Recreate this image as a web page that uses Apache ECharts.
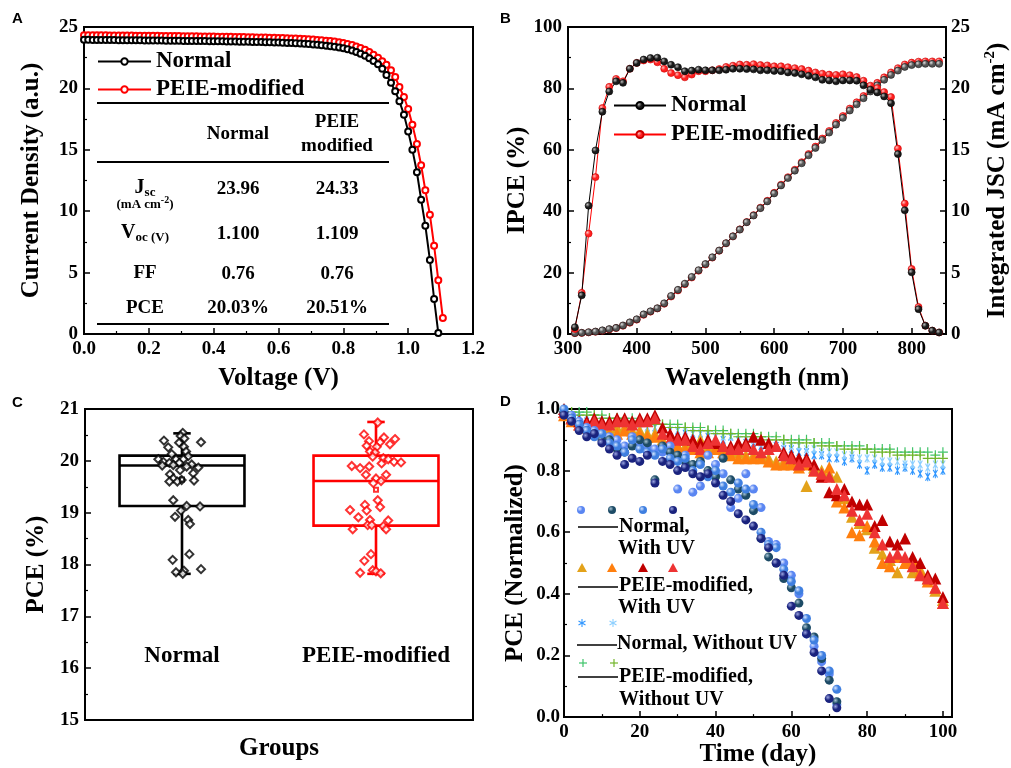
<!DOCTYPE html>
<html><head><meta charset="utf-8">
<script src="https://cdn.jsdelivr.net/npm/echarts@6.0.0/dist/echarts.min.js"></script>
<style>html,body{margin:0;padding:0;background:#fff}#c{width:1011px;height:768px}</style>
</head><body><div id="c"></div>
<script>
// ---------- Panel A: J-V ----------
const voltage = [0,0.013,0.027,0.040,0.053,0.067,0.080,0.093,0.107,0.120,0.133,0.147,0.160,0.173,0.187,0.200,0.213,0.227,0.240,0.253,0.267,0.280,0.293,0.307,0.320,0.333,0.347,0.360,0.373,0.387,0.400,0.413,0.427,0.440,0.453,0.467,0.480,0.493,0.507,0.520,0.533,0.547,0.560,0.573,0.587,0.600,0.613,0.627,0.640,0.653,0.667,0.680,0.693,0.707,0.720,0.733,0.747,0.760,0.773,0.787,0.800,0.813,0.827,0.840,0.853,0.867,0.880,0.893,0.907,0.920,0.933,0.947,0.960,0.973,0.987,1.000,1.013,1.027,1.040,1.053,1.067,1.080,1.093,1.107];
const jNormal = [23.96,23.96,23.95,23.95,23.95,23.94,23.94,23.94,23.93,23.93,23.93,23.92,23.92,23.92,23.91,23.91,23.90,23.90,23.90,23.89,23.89,23.88,23.88,23.87,23.87,23.86,23.86,23.85,23.85,23.84,23.84,23.83,23.83,23.82,23.82,23.81,23.80,23.80,23.79,23.78,23.77,23.77,23.76,23.75,23.74,23.73,23.72,23.70,23.69,23.67,23.65,23.63,23.61,23.58,23.55,23.52,23.48,23.44,23.39,23.33,23.26,23.18,23.08,22.96,22.82,22.66,22.46,22.23,21.96,21.60,21.10,20.45,19.76,18.95,17.86,16.50,15.01,13.17,10.94,8.82,6.03,2.85,0.08];
const jPEIE = [24.33,24.33,24.33,24.32,24.32,24.32,24.31,24.31,24.31,24.30,24.30,24.30,24.29,24.29,24.29,24.28,24.28,24.28,24.27,24.27,24.26,24.26,24.26,24.25,24.25,24.24,24.24,24.23,24.23,24.22,24.22,24.21,24.21,24.20,24.20,24.19,24.18,24.18,24.17,24.16,24.15,24.15,24.14,24.13,24.12,24.11,24.10,24.09,24.07,24.06,24.04,24.02,24.00,23.98,23.95,23.92,23.89,23.85,23.81,23.76,23.70,23.62,23.53,23.42,23.29,23.14,22.96,22.75,22.50,22.22,21.93,21.47,20.93,20.11,19.30,18.32,17.05,15.47,13.74,11.70,9.72,7.19,4.37,1.30];
const tableRows = ['Jsc','Voc','FF','PCE'];
const tableNormal = ['23.96','1.100','0.76','20.03%'];
const tablePEIE = ['24.33','1.109','0.76','20.51%'];

// ---------- Panel B: IPCE ----------
const wavelength = [310,320,330,340,350,360,370,380,390,400,410,420,430,440,450,460,470,480,490,500,510,520,530,540,550,560,570,580,590,600,610,620,630,640,650,660,670,680,690,700,710,720,730,740,750,760,770,780,790,800,810,820,830,840];
const ipceNormal = [2.2,12.6,41.8,59.8,72.4,79.0,82.3,81.8,86.4,88.3,89.4,89.9,90.0,88.8,87.7,86.9,85.6,85.8,86.1,85.9,85.9,85.9,86.1,86.4,86.4,86.3,86.2,85.9,85.9,85.7,85.6,85.2,85.0,84.6,84.1,83.6,82.8,82.6,82.3,82.6,82.6,82.5,81.0,79.6,78.7,77.4,75.2,58.6,40.3,20.1,8.1,2.7,1.1,0.5];
const ipcePEIE = [1.6,13.4,32.7,51.1,73.6,80.5,83.1,82.3,86.4,88.3,89.1,89.4,88.5,86.4,85.0,84.3,83.6,84.5,85.6,85.6,85.9,86.3,87.0,87.4,87.8,87.7,87.9,87.6,87.5,87.2,87.2,86.9,86.6,86.3,85.8,85.2,84.8,84.5,84.4,84.6,84.3,83.7,82.5,80.9,80.1,78.8,77.2,60.4,42.5,21.2,8.8,2.7,1.1,0.5];
const jscNormal = [0.08,0.1,0.15,0.2,0.3,0.4,0.5,0.7,0.95,1.2,1.6,1.85,2.1,2.5,3.1,3.6,4.1,4.65,5.2,5.7,6.25,6.8,7.4,7.95,8.5,9.1,9.65,10.25,10.8,11.45,12.1,12.7,13.3,13.9,14.55,15.15,15.8,16.4,17.05,17.6,18.2,18.7,19.2,19.75,20.25,20.7,21.1,21.45,21.75,21.9,21.97,22.0,22.0,22.0];
const jscPEIE = [0.07,0.09,0.13,0.18,0.27,0.37,0.48,0.67,0.92,1.17,1.56,1.82,2.08,2.46,3.05,3.55,4.05,4.6,5.15,5.66,6.22,6.78,7.38,7.95,8.52,9.12,9.68,10.29,10.85,11.5,12.16,12.77,13.38,13.99,14.65,15.26,15.92,16.53,17.19,17.75,18.36,18.87,19.38,19.94,20.45,20.9,21.3,21.65,21.95,22.1,22.18,22.2,22.2,22.2];

// ---------- Panel C: PCE distribution ----------
const groups = ['Normal','PEIE-modified'];
const boxMin = [17.82,17.82];
const boxQ1 = [19.13,18.75];
const boxMedian = [19.91,19.61];
const boxQ3 = [20.10,20.10];
const boxMax = [20.53,20.75];
const boxMean = [19.64,19.44];
const normalJitter = [0.004,-0.007,0.012,-0.093,0.098,-0.015,-0.071,0.010,0.021,-0.053,0.032,-0.122,-0.031,0.007,-0.096,-0.065,-0.014,0.050,-0.102,-0.045,0.024,0.084,-0.010,0.058,-0.062,-0.045,-0.002,0.062,-0.065,-0.024,-0.045,0.024,0.093,-0.005,-0.036,0.032,0.041,0.038,-0.048,0.010,0.098,-0.031,0.004];
const normalPCE = [20.54,20.48,20.43,20.39,20.36,20.35,20.26,20.27,20.18,20.13,20.09,20.03,20.03,20.03,19.98,19.96,19.96,19.93,19.91,19.92,19.89,19.87,19.82,19.76,19.74,19.66,19.63,19.62,19.60,19.60,19.24,19.13,19.12,19.04,18.92,18.86,18.78,18.20,18.09,17.88,17.91,17.85,17.82];
const peieJitter = [0.009,-0.062,0.041,0.098,-0.036,0.021,0.072,-0.048,0.004,-0.031,-0.005,0.038,0.063,0.093,0.129,-0.017,0.029,-0.125,-0.082,-0.035,-0.052,0.052,0.000,0.026,-0.014,0.009,0.021,-0.134,-0.057,-0.048,-0.091,-0.031,0.063,-0.043,0.038,-0.022,-0.120,0.052,-0.026,-0.060,-0.082,-0.017,0.000,0.024];
const peiePCE = [20.74,20.51,20.45,20.42,20.38,20.36,20.32,20.29,20.27,20.18,20.16,20.05,20.03,19.98,19.97,20.08,19.95,19.90,19.86,19.89,19.73,19.73,19.66,19.61,19.57,19.24,19.11,19.05,19.15,19.04,18.91,18.86,18.85,18.76,18.74,18.76,18.68,18.68,18.20,18.07,17.84,17.89,17.87,17.83];

// ---------- Panel D: stability ----------
const days = [0,2,4,6,8,10,12,14,16,18,20,22,24,26,28,30,32,34,36,38,40,42,44,46,48,50,52,54,56,58,60,62,64,66,68,70,72,74,76,78,80,82,84,86,88,90,92,94,96,98,100];
const normalUV1 = [0.99,0.98,0.96,0.94,0.93,0.92,0.91,0.90,0.88,0.91,0.89,0.88,0.87,0.86,0.88,0.74,0.85,0.73,0.75,0.85,0.82,0.79,0.68,0.71,0.79,0.74,0.68,0.57,0.56,0.50,0.46,0.40,0.27,0.23,0.18,0.14,0.04];
const normalUV2 = [0.99,0.97,0.95,0.93,0.92,0.90,0.90,0.87,0.86,0.88,0.90,0.89,0.77,0.88,0.86,0.85,0.83,0.82,0.83,0.80,0.78,0.84,0.77,0.74,0.72,0.67,0.58,0.52,0.50,0.45,0.42,0.37,0.29,0.26,0.19,0.12,0.05];
const normalUV3 = [1.00,0.97,0.95,0.93,0.91,0.92,0.89,0.88,0.86,0.90,0.87,0.86,0.85,0.87,0.84,0.83,0.84,0.80,0.82,0.78,0.80,0.75,0.73,0.76,0.74,0.69,0.60,0.56,0.55,0.48,0.44,0.41,0.32,0.25,0.20,0.15,0.09];
const normalUV4 = [0.98,0.96,0.93,0.91,0.92,0.89,0.87,0.85,0.82,0.84,0.83,0.85,0.76,0.83,0.82,0.80,0.81,0.79,0.78,0.79,0.76,0.72,0.70,0.66,0.64,0.62,0.58,0.55,0.50,0.46,0.36,0.33,0.27,0.21,0.15,0.06,0.03];
const peieUV1 = [1.00,0.97,0.96,0.96,0.97,0.96,0.96,0.97,0.97,0.96,0.97,0.97,0.98,0.94,0.92,0.91,0.91,0.90,0.89,0.90,0.89,0.88,0.88,0.89,0.89,0.91,0.90,0.89,0.88,0.86,0.85,0.84,0.84,0.82,0.78,0.73,0.72,0.74,0.70,0.69,0.69,0.62,0.64,0.57,0.56,0.58,0.52,0.50,0.46,0.45,0.39];
const peieUV2 = [0.99,0.97,0.95,0.95,0.96,0.95,0.95,0.96,0.96,0.95,0.96,0.96,0.97,0.92,0.90,0.90,0.90,0.88,0.87,0.89,0.90,0.88,0.87,0.87,0.88,0.87,0.86,0.87,0.88,0.85,0.84,0.82,0.83,0.80,0.79,0.78,0.74,0.72,0.67,0.64,0.66,0.60,0.56,0.52,0.53,0.52,0.49,0.46,0.45,0.42,0.37];
const peieUV3 = [0.98,0.96,0.95,0.94,0.93,0.93,0.92,0.92,0.93,0.92,0.92,0.91,0.91,0.89,0.88,0.88,0.87,0.87,0.86,0.86,0.87,0.86,0.85,0.84,0.84,0.84,0.84,0.83,0.82,0.82,0.82,0.81,0.82,0.80,0.79,0.81,0.70,0.68,0.60,0.59,0.62,0.57,0.50,0.49,0.52,0.50,0.51,0.47,0.44,0.42,0.37];
const peieUV4 = [0.99,0.97,0.96,0.95,0.95,0.94,0.93,0.94,0.94,0.93,0.93,0.92,0.92,0.90,0.89,0.88,0.88,0.89,0.90,0.88,0.88,0.87,0.86,0.86,0.85,0.85,0.85,0.84,0.83,0.83,0.83,0.82,0.75,0.81,0.80,0.79,0.78,0.71,0.65,0.63,0.61,0.55,0.53,0.51,0.47,0.50,0.47,0.48,0.45,0.41,0.38];
const normalNoUV1 = [0.98,0.97,0.97,0.96,0.96,0.96,0.95,0.95,0.95,0.94,0.94,0.94,0.94,0.93,0.93,0.93,0.92,0.92,0.92,0.91,0.91,0.90,0.91,0.90,0.89,0.89,0.88,0.89,0.88,0.87,0.87,0.86,0.86,0.85,0.85,0.84,0.84,0.83,0.84,0.82,0.80,0.82,0.81,0.81,0.80,0.81,0.80,0.79,0.78,0.79,0.80];
const normalNoUV2 = [0.99,0.98,0.98,0.97,0.97,0.96,0.96,0.96,0.95,0.95,0.95,0.94,0.94,0.94,0.93,0.93,0.93,0.92,0.92,0.92,0.91,0.91,0.91,0.90,0.90,0.90,0.89,0.89,0.89,0.88,0.88,0.88,0.87,0.87,0.86,0.86,0.86,0.85,0.85,0.84,0.84,0.84,0.83,0.83,0.83,0.82,0.82,0.82,0.81,0.82,0.82];
const peieNoUV1 = [1.00,0.99,0.99,0.99,0.98,0.98,0.97,0.97,0.97,0.97,0.96,0.96,0.96,0.95,0.95,0.95,0.94,0.94,0.94,0.93,0.93,0.93,0.92,0.92,0.92,0.92,0.91,0.91,0.91,0.90,0.90,0.90,0.90,0.89,0.89,0.89,0.88,0.88,0.88,0.88,0.87,0.87,0.87,0.87,0.86,0.86,0.86,0.86,0.86,0.85,0.86];
const peieNoUV2 = [0.99,0.99,0.98,0.98,0.98,0.97,0.97,0.97,0.96,0.96,0.96,0.95,0.95,0.95,0.94,0.94,0.94,0.93,0.93,0.93,0.92,0.92,0.92,0.91,0.91,0.91,0.91,0.90,0.90,0.90,0.89,0.89,0.89,0.89,0.88,0.88,0.88,0.87,0.87,0.87,0.87,0.86,0.86,0.86,0.85,0.85,0.85,0.85,0.84,0.84,0.84];

// ---------- helpers ----------
const SERIF = 'Liberation Serif';
function ax(o) {
  const base = {
    nameLocation: 'middle',
    nameTextStyle: {fontFamily: SERIF, fontWeight: 'bold', fontSize: 25, color: '#000'},
    axisLine: {show: true, onZero: false, lineStyle: {color: '#000', width: 2}},
    axisTick: {show: true, inside: true, length: 6, lineStyle: {color: '#000', width: 1.5}},
    minorTick: {show: true, splitNumber: 2, length: 3, lineStyle: {color: '#000', width: 1.2}},
    axisLabel: {color: '#000', fontFamily: SERIF, fontWeight: 'bold', fontSize: 19, margin: 6},
    splitLine: {show: false}
  };
  for (const k in o) {
    if (base[k] && typeof base[k] === 'object' && typeof o[k] === 'object' && !Array.isArray(o[k])) base[k] = Object.assign({}, base[k], o[k]);
    else base[k] = o[k];
  }
  return base;
}
function sphere(c, hi) {
  return {type: 'radial', x: 0.35, y: 0.35, r: 0.75, colorStops: [{offset: 0, color: hi}, {offset: 0.45, color: c}, {offset: 1, color: c}]};
}
function pairs(xs, ys) { return ys.map((y, i) => [xs[i], y]); }
const fix1 = v => v.toFixed(1);

const asteriskPath = 'path://M-0.6,-5L0.6,-5L0.6,5L-0.6,5Z M-3.02,-4.03L-1.98,-4.63L3.02,4.03L1.98,4.63Z M1.98,-4.63L3.02,-4.03L-1.98,4.63L-3.02,4.03Z';
const plusPath = 'path://M-0.6,-5L0.6,-5L0.6,-0.6L5,-0.6L5,0.6L0.6,0.6L0.6,5L-0.6,5L-0.6,0.6L-5,0.6L-5,-0.6L-0.6,-0.6Z';

const boxColors = ['#000000', '#ff0000'];

// Panel D series description
const dSeries = [
  {name: 'Normal, Without UV a', vals: normalNoUV1, symbol: asteriskPath, size: 9, color: '#2f96ff'},
  {name: 'Normal, Without UV b', vals: normalNoUV2, symbol: asteriskPath, size: 9, color: '#8ccfff'},
  {name: 'PEIE-modified, Without UV a', vals: peieNoUV1, symbol: plusPath, size: 10, color: '#3fc46a'},
  {name: 'PEIE-modified, Without UV b', vals: peieNoUV2, symbol: plusPath, size: 10, color: '#72b52a'},
  {name: 'PEIE-modified, With UV a', vals: peieUV4, symbol: 'triangle', size: 12, color: '#e3a21a'},
  {name: 'PEIE-modified, With UV b', vals: peieUV3, symbol: 'triangle', size: 12, color: '#ff7f0e'},
  {name: 'PEIE-modified, With UV c', vals: peieUV1, symbol: 'triangle', size: 12, color: '#c00000'},
  {name: 'PEIE-modified, With UV d', vals: peieUV2, symbol: 'triangle', size: 12, color: '#ee3333'},
  {name: 'Normal, With UV a', vals: normalUV1, symbol: 'circle', size: 9, color: sphere('#5a86f2', '#dfe8ff')},
  {name: 'Normal, With UV b', vals: normalUV2, symbol: 'circle', size: 9, color: sphere('#1d4b66', '#a8c4d4')},
  {name: 'Normal, With UV c', vals: normalUV3, symbol: 'circle', size: 9, color: sphere('#3f7fe0', '#d6e6ff')},
  {name: 'Normal, With UV d', vals: normalUV4, symbol: 'circle', size: 9, color: sphere('#1a237e', '#9aa4e0')}
];

const txt = (text, x, y, size, align, extra) => ({type: 'text', silent: true, style: Object.assign({text: text, x: x, y: y, fill: '#000', font: 'bold ' + size + 'px "' + SERIF + '"', align: align || 'center', verticalAlign: 'middle'}, extra || {})});
const seg = (x1, y1, x2, y2, c, w) => ({type: 'line', silent: true, shape: {x1: x1, y1: y1, x2: x2, y2: y2}, style: {stroke: c || '#000', lineWidth: w || 2}});
const hline = (x1, x2, y, w) => seg(x1, y, x2, y, '#000', w);
const asterisk = (cx, cy, c) => [seg(cx, cy - 4, cx, cy + 4, c, 1.1), seg(cx - 3.5, cy - 2, cx + 3.5, cy + 2, c, 1.1), seg(cx - 3.5, cy + 2, cx + 3.5, cy - 2, c, 1.1)];
const plus = (cx, cy, c) => [seg(cx, cy - 4, cx, cy + 4, c, 1.2), seg(cx - 4, cy, cx + 4, cy, c, 1.2)];

const graphics = [
  {type: 'text', silent: true, style: {text: 'A', x: 12, y: 19, fill: '#000', font: 'bold 15px "Liberation Sans"', align: 'left', verticalAlign: 'middle'}},
  {type: 'text', silent: true, style: {text: 'B', x: 500, y: 19, fill: '#000', font: 'bold 15px "Liberation Sans"', align: 'left', verticalAlign: 'middle'}},
  {type: 'text', silent: true, style: {text: 'C', x: 12, y: 403, fill: '#000', font: 'bold 15px "Liberation Sans"', align: 'left', verticalAlign: 'middle'}},
  {type: 'text', silent: true, style: {text: 'D', x: 500, y: 402, fill: '#000', font: 'bold 15px "Liberation Sans"', align: 'left', verticalAlign: 'middle'}},
  // Panel A table
  hline(97, 389, 103), hline(97, 389, 162), hline(97, 389, 324),
  txt('Normal', 238, 134, 19), txt('PEIE', 337, 122, 19), txt('modified', 337, 146, 19),
  {type: 'text', silent: true, style: {text: '{b|J}{s|sc}', x: 145, y: 188, align: 'center', verticalAlign: 'middle', rich: {b: {fontSize: 20, fontWeight: 'bold', fontFamily: SERIF, fill: '#000'}, s: {fontSize: 13, fontWeight: 'bold', fontFamily: SERIF, fill: '#000', padding: [10, 0, 0, 0]}}}},
  {type: 'text', silent: true, style: {text: '{m|(mA cm}{s|-2}{m|)}', x: 145, y: 205, align: 'center', verticalAlign: 'middle', rich: {m: {fontSize: 13, fontWeight: 'bold', fontFamily: SERIF, fill: '#000'}, s: {fontSize: 10, fontWeight: 'bold', fontFamily: SERIF, fill: '#000', padding: [0, 0, 10, 0]}}}},
  {type: 'text', silent: true, style: {text: '{b|V}{s|oc (V)}', x: 145, y: 233, align: 'center', verticalAlign: 'middle', rich: {b: {fontSize: 20, fontWeight: 'bold', fontFamily: SERIF, fill: '#000'}, s: {fontSize: 13, fontWeight: 'bold', fontFamily: SERIF, fill: '#000', padding: [10, 0, 0, 0]}}}},
  txt(tableRows[2], 145, 273, 19), txt(tableRows[3], 145, 308, 19),
  txt(tableNormal[0], 238, 189, 19), txt(tableNormal[1], 238, 234, 19), txt(tableNormal[2], 238, 274, 19), txt(tableNormal[3], 238, 308, 19),
  txt(tablePEIE[0], 337, 189, 19), txt(tablePEIE[1], 337, 234, 19), txt(tablePEIE[2], 337, 274, 19), txt(tablePEIE[3], 337, 308, 19),
  // Panel D legend
  {type: 'circle', silent: true, shape: {cx: 581, cy: 510, r: 4}, style: {fill: sphere('#5a86f2', '#dfe8ff')}},
  {type: 'circle', silent: true, shape: {cx: 612, cy: 510, r: 4}, style: {fill: sphere('#1d4b66', '#a8c4d4')}},
  {type: 'circle', silent: true, shape: {cx: 643, cy: 510, r: 4}, style: {fill: sphere('#3f7fe0', '#d6e6ff')}},
  {type: 'circle', silent: true, shape: {cx: 673, cy: 510, r: 4}, style: {fill: sphere('#1a237e', '#9aa4e0')}},
  hline(578, 618, 527, 1.5), txt('Normal,', 619, 527, 20, 'left'), txt('With UV', 618, 549, 20, 'left'),
  {type: 'polygon', silent: true, shape: {points: [[582, 563], [587, 572], [577, 572]]}, style: {fill: '#e3a21a'}},
  {type: 'polygon', silent: true, shape: {points: [[612, 563], [617, 572], [607, 572]]}, style: {fill: '#ff7f0e'}},
  {type: 'polygon', silent: true, shape: {points: [[643, 563], [648, 572], [638, 572]]}, style: {fill: '#c00000'}},
  {type: 'polygon', silent: true, shape: {points: [[673, 563], [678, 572], [668, 572]]}, style: {fill: '#ee3333'}},
  hline(578, 618, 587, 1.5), txt('PEIE-modified,', 619, 586, 20, 'left'), txt('With UV', 618, 608, 20, 'left')
].concat(asterisk(582, 623, '#2f96ff'), asterisk(613, 623, '#8ccfff'), [
  hline(577, 617, 645, 1.5), txt('Normal, Without UV', 617, 644, 20, 'left')
], plus(583, 663, '#3fc46a'), plus(614, 663, '#72b52a'), [
  hline(578, 618, 677, 1.5), txt('PEIE-modified,', 619, 677, 20, 'left'), txt('Without UV', 619, 700, 20, 'left')
]);

const series = [
  // A
  {type: 'line', name: 'PEIE-modified', xAxisIndex: 0, yAxisIndex: 0, data: pairs(voltage, jPEIE), symbol: 'emptyCircle', symbolSize: 6, lineStyle: {color: '#ff0000', width: 2}, itemStyle: {color: '#ff0000', borderWidth: 1.5}},
  {type: 'line', name: 'Normal', xAxisIndex: 0, yAxisIndex: 0, data: pairs(voltage, jNormal), symbol: 'emptyCircle', symbolSize: 6, lineStyle: {color: '#000', width: 2}, itemStyle: {color: '#000', borderWidth: 1.5}},
  // B
  {type: 'line', name: 'JSC|PEIE-modified', xAxisIndex: 1, yAxisIndex: 2, data: pairs(wavelength, jscPEIE), symbol: 'circle', symbolSize: 7, lineStyle: {color: '#ff0000', width: 1}, itemStyle: {color: sphere('#ff2020', '#ffc0c0'), borderColor: '#cc0000', borderWidth: 0.6}},
  {type: 'line', name: 'JSC|Normal', xAxisIndex: 1, yAxisIndex: 2, data: pairs(wavelength, jscNormal), symbol: 'circle', symbolSize: 7, lineStyle: {color: '#000', width: 1}, itemStyle: {color: sphere('#555555', '#dddddd'), borderColor: '#111', borderWidth: 0.6}},
  {type: 'line', name: 'IPCE|PEIE-modified', xAxisIndex: 1, yAxisIndex: 1, data: pairs(wavelength, ipcePEIE), symbol: 'circle', symbolSize: 7, lineStyle: {color: '#ff0000', width: 1}, itemStyle: {color: sphere('#ff2020', '#ffc0c0'), borderColor: '#cc0000', borderWidth: 0.6}},
  {type: 'line', name: 'IPCE|Normal', xAxisIndex: 1, yAxisIndex: 1, data: pairs(wavelength, ipceNormal), symbol: 'circle', symbolSize: 7, lineStyle: {color: '#000', width: 1}, itemStyle: {color: sphere('#1a1a1a', '#bbbbbb'), borderColor: '#000', borderWidth: 0.6}},
  // C
  {type: 'custom', name: 'box', xAxisIndex: 2, yAxisIndex: 3, silent: true,
   data: groups.map((g, i) => [i, boxMin[i], boxQ1[i], boxMedian[i], boxQ3[i], boxMax[i]]),
   encode: {x: 0, y: [1, 2, 3, 4, 5]},
   renderItem: function (params, api) {
     const x = api.value(0), col = boxColors[params.dataIndex];
     const hw = 0.322, cw = 0.045;
     const tl = api.coord([x - hw, api.value(4)]), br = api.coord([x + hw, api.value(2)]);
     const mL = api.coord([x - hw, api.value(3)]), mR = api.coord([x + hw, api.value(3)]);
     const top = api.coord([x, api.value(5)]), q3 = api.coord([x, api.value(4)]);
     const q1 = api.coord([x, api.value(2)]), bot = api.coord([x, api.value(1)]);
     const capW = api.coord([x + cw, 18])[0] - api.coord([x, 18])[0];
     const st = {stroke: col, fill: 'none', lineWidth: 2.6};
     return {type: 'group', children: [
       {type: 'rect', shape: {x: tl[0], y: tl[1], width: br[0] - tl[0], height: br[1] - tl[1]}, style: st},
       {type: 'line', shape: {x1: mL[0], y1: mL[1], x2: mR[0], y2: mR[1]}, style: st},
       {type: 'line', shape: {x1: top[0], y1: top[1], x2: q3[0], y2: q3[1]}, style: st},
       {type: 'line', shape: {x1: q1[0], y1: q1[1], x2: bot[0], y2: bot[1]}, style: st},
       {type: 'line', shape: {x1: top[0] - capW, y1: top[1], x2: top[0] + capW, y2: top[1]}, style: st},
       {type: 'line', shape: {x1: bot[0] - capW, y1: bot[1], x2: bot[0] + capW, y2: bot[1]}, style: st}
     ]};
   }},
  {type: 'scatter', name: 'Normal PCE', xAxisIndex: 2, yAxisIndex: 3, data: normalJitter.map((j, i) => [0 + j, normalPCE[i]]), symbol: 'emptyDiamond', symbolSize: 8, itemStyle: {color: '#000', borderWidth: 1.2}},
  {type: 'scatter', name: 'PEIE PCE', xAxisIndex: 2, yAxisIndex: 3, data: peieJitter.map((j, i) => [1 + j, peiePCE[i]]), symbol: 'emptyDiamond', symbolSize: 8, itemStyle: {color: '#ff0000', borderWidth: 1.2}},
  {type: 'scatter', name: 'Mean', xAxisIndex: 2, yAxisIndex: 3, data: boxMean.map((m, i) => ({value: [i, m], itemStyle: {color: boxColors[i]}})), symbol: 'emptyRect', symbolSize: 4, itemStyle: {borderWidth: 1}}
].concat(dSeries.map(s => ({
  type: 'scatter', name: s.name, xAxisIndex: 4, yAxisIndex: 4,
  data: pairs(days, s.vals), symbol: s.symbol, symbolSize: s.size, symbolKeepAspect: true,
  itemStyle: {color: s.color, opacity: 1}
})));

const legendText = {fontFamily: SERIF, fontWeight: 'bold', fontSize: 23, color: '#000', lineHeight: 23};

const option = {
  animation: false,
  backgroundColor: '#fff',
  grid: [
    {left: 84, top: 27, width: 389, height: 307, show: true, borderColor: '#000', borderWidth: 2},
    {left: 568, top: 27, width: 383, height: 307, show: true, borderColor: '#000', borderWidth: 2},
    {left: 85, top: 409, width: 388, height: 311, show: true, borderColor: '#000', borderWidth: 2},
    {left: 564, top: 409, width: 388, height: 311, show: true, borderColor: '#000', borderWidth: 2}
  ],
  xAxis: [
    ax({type: 'value', gridIndex: 0, min: 0, max: 1.2, interval: 0.2, name: 'Voltage (V)', nameGap: 32, axisLabel: {formatter: fix1}}),
    ax({type: 'value', gridIndex: 1, min: 300, max: 850, interval: 100, name: 'Wavelength (nm)', nameGap: 32, axisLabel: {showMaxLabel: false}}),
    ax({type: 'value', gridIndex: 2, min: -0.5, max: 1.5, name: 'Groups', nameGap: 16, axisLabel: {show: false}, axisTick: {show: false}, minorTick: {show: false}}),
    ax({type: 'category', gridIndex: 2, data: groups, position: 'bottom', offset: -80, axisLine: {show: false}, axisTick: {show: false}, minorTick: {show: false}, axisLabel: {fontSize: 23, margin: 5}}),
    ax({type: 'value', gridIndex: 3, min: 0, max: 102.4, interval: 20, name: 'Time (day)', nameGap: 23, axisLabel: {showMaxLabel: false, margin: 5}})
  ],
  yAxis: [
    ax({type: 'value', gridIndex: 0, min: 0, max: 25, interval: 5, name: 'Current Density (a.u.)', nameGap: 40}),
    ax({type: 'value', gridIndex: 1, min: 0, max: 100, interval: 20, name: 'IPCE (%)', nameGap: 34}),
    ax({type: 'value', gridIndex: 1, min: 0, max: 25, interval: 5, position: 'right', name: '{a|Integrated JSC (mA cm}{s|-2}{a|)}', nameGap: 37,
        nameTextStyle: {rich: {a: {fontFamily: SERIF, fontWeight: 'bold', fontSize: 25, color: '#000'}, s: {fontFamily: SERIF, fontWeight: 'bold', fontSize: 15, color: '#000', padding: [0, 0, 14, 0]}}},
        axisLabel: {margin: 5}}),
    ax({type: 'value', gridIndex: 2, min: 15, max: 21, interval: 1, name: 'PCE (%)', nameGap: 36}),
    ax({type: 'value', gridIndex: 3, min: 0, max: 1, interval: 0.2, name: 'PCE (Normalized)', nameGap: 36, axisLabel: {formatter: fix1, margin: 4}})
  ],
  legend: [
    {data: ['Normal', 'PEIE-modified'], left: 97, top: 50, orient: 'vertical', itemWidth: 53, itemHeight: 8, itemGap: 5, padding: 0, selectedMode: false, textStyle: legendText},
    {data: ['IPCE|Normal', 'IPCE|PEIE-modified'], formatter: n => n.split('|')[1], left: 613, top: 94, orient: 'vertical', itemWidth: 52, itemHeight: 9, itemGap: 6, padding: 0, selectedMode: false, textStyle: legendText}
  ],
  graphic: graphics,
  series: series
};

const chart = echarts.init(document.getElementById('c'), null, {renderer: 'canvas'});
chart.setOption(option);
</script>
</body></html>
